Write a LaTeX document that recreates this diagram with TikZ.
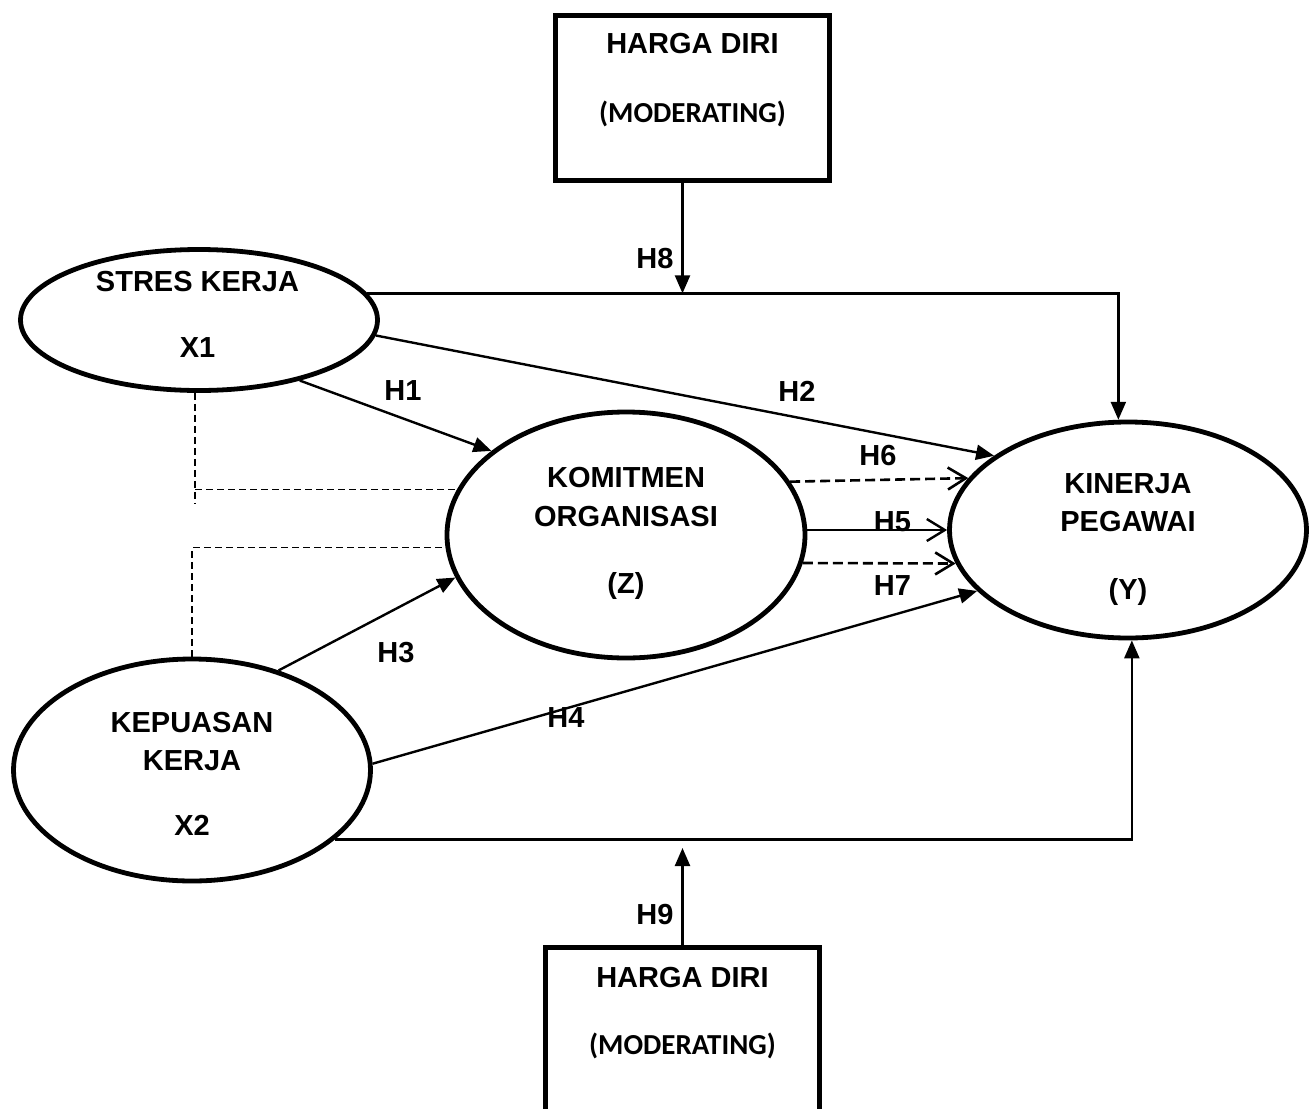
\documentclass[tikz,border=0pt]{standalone}
\usepackage{fontspec}
\setmainfont{Liberation Sans}
\newfontfamily\calibri{Carlito}
\usetikzlibrary{shapes.geometric, arrows.meta}
\tikzstyle{latent} = [ellipse, draw=black, line width=2.4pt, inner sep=0pt]
\tikzstyle{modbox} = [rectangle, draw=black, line width=2.4pt,
                      minimum width=137pt, inner sep=0pt]
\tikzstyle{txt} = [font=\fontsize{14.5}{17}\selectfont\bfseries,
                   inner sep=0pt, text height=10.4pt, text depth=0pt]
\tikzstyle{arrow} = [line width=1.2pt, -{Triangle[length=9pt,width=7.5pt]}]
\tikzstyle{openarrow} = [line width=1.2pt, -{Straight Barb[length=9pt,width=11pt]}]
\tikzstyle{dlink} = [openarrow, line width=1.3pt, dash pattern=on 5pt off 2.5pt]
\tikzstyle{dline} = [line width=0.8pt, dash pattern=on 3.5pt off 2pt]

\begin{document}
\begin{tikzpicture}[x=0.5pt, y=-0.5pt]
        \useasboundingbox (0,0) rectangle (1314,1109);
        \clip (0,0) rectangle (1314,1109);

        %Moderator boxes
        \node (hdTop) [modbox, minimum height=82.5pt] at (692.5,98) {};
        \node (hdBot) [modbox, minimum height=91.25pt] at (682.5,1038.75) {};
        \node (tHdTop) [txt] at (692.5,43) {HARGA DIRI};
        \node (tModTop) [txt, font=\fontsize{14.5}{17}\selectfont\calibri\bfseries] at (692.5,112.5) {(MODERATING)};
        \node (tHdBot) [txt] at (682.5,977) {HARGA DIRI};
        \node (tModBot) [txt, font=\fontsize{14.5}{17}\selectfont\calibri\bfseries] at (682.5,1044) {(MODERATING)};

        %Variables
        \node (stres) [latent, minimum width=178.5pt, minimum height=70.5pt] at (199,320) {};
        \node (komit) [latent, minimum width=179pt, minimum height=123pt] at (626,535) {};
        \node (kep) [latent, minimum width=178.5pt, minimum height=111pt] at (192,770) {};
        \node (kin) [latent, minimum width=178.5pt, minimum height=108pt] at (1128,530) {};

        \node (tStres) [txt] at (197.5,281) {STRES KERJA};
        \node (tX1) [txt] at (197.5,347) {X1};
        \node (tKomit) [txt] at (626,477.5) {KOMITMEN};
        \node (tOrg) [txt] at (626,516) {ORGANISASI};
        \node (tZ) [txt] at (626,583) {(Z)};
        \node (tKep) [txt] at (192,722) {KEPUASAN};
        \node (tKerja) [txt] at (192,760) {KERJA};
        \node (tX2) [txt] at (192,825) {X2};
        \node (tKin) [txt] at (1128,483) {KINERJA};
        \node (tPeg) [txt] at (1128,521) {PEGAWAI};
        \node (tY) [txt] at (1128,589) {(Y)};

        %Moderating paths
        \coordinate (h8start) at ([xshift=-5pt]hdTop.south);
        \coordinate (h8end) at (h8start |- stres.9);
        \coordinate (h9end) at (682.5,848);
        \draw [arrow] (stres.9) -| (kin.95.8);
        \draw [arrow] (h8start) -- (h8end);
        \draw [arrow] (kep.-26.4) -| (kin.-88);
        \draw [arrow] (hdBot.north) -- (h9end);

        %Direct paths
        \draw [arrow] (stres.-31) -- (komit.148.6);
        \draw [arrow] (stres.-5.5) -- (kin.151);
        \draw [arrow] (kep.49.3) -- (komit.194.3);
        \draw [arrow] (kep.2.5) -- (kin.202.4);
        \draw [openarrow] (komit.east |- kin.west) -- (kin.west);

        %Mediation paths
        \draw [dlink] (komit.18.6) -- (kin.162.6);
        \draw [dlink] (komit.-9.7) -- (kin.191.6);
        \draw [dline] (stres.-93) -- ++(0,111);
        \draw [dline] (stres.-93 |- komit.165.8) -- (komit.165.8);
        \draw [dline] (kep.north) |- (komit.184.1);

        %Hypothesis labels
        \node (lH1) [txt] at (403,390) {H1};
        \node (lH2) [txt] at (797,391) {H2};
        \node (lH3) [txt] at (396,652.5) {H3};
        \node (lH4) [txt] at (566,717) {H4};
        \node (lH5) [txt] at (892.5,521.5) {H5};
        \node (lH6) [txt] at (878,455) {H6};
        \node (lH7) [txt] at (892.5,585) {H7};
        \node (lH8) [txt] at (655,258) {H8};
        \node (lH9) [txt] at (655,914) {H9};

\end{tikzpicture}
\end{document}
